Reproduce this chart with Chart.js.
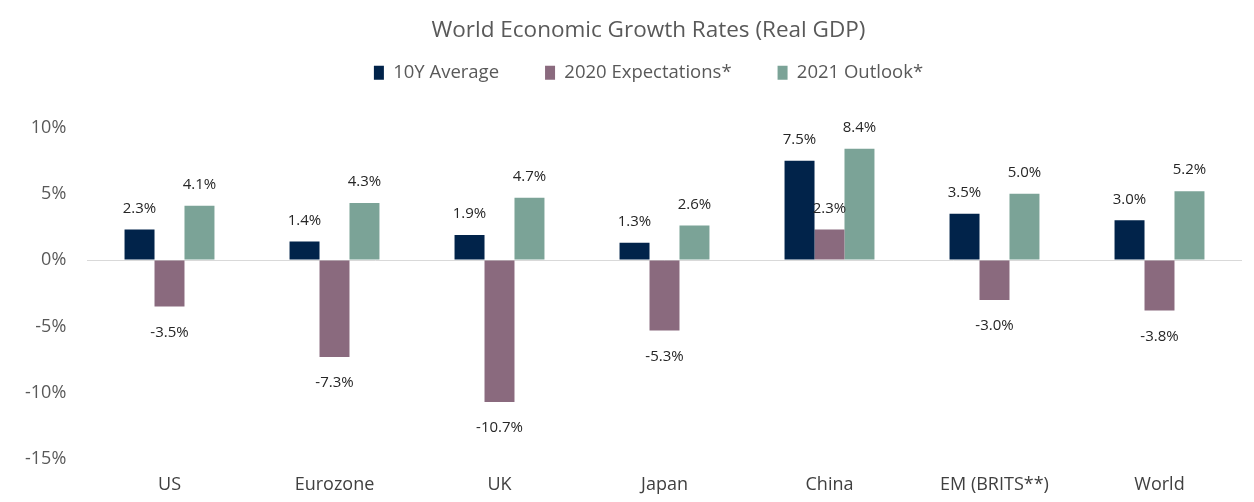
<!DOCTYPE html>
<html><head><meta charset="utf-8">
<script src="https://cdn.jsdelivr.net/npm/chart.js@4/dist/chart.umd.min.js"></script>
<style>html,body{margin:0;padding:0;background:#fff}#wrap{width:1254px;height:502px}</style>
</head><body><div id="wrap"><canvas id="c"></canvas></div>
<script>
const categories = ['US','Eurozone','UK','Japan','China','EM (BRITS**)','World'];
const avg10Y = [2.3, 1.4, 1.9, 1.3, 7.5, 3.5, 3.0];
const exp2020 = [-3.5, -7.3, -10.7, -5.3, 2.3, -3.0, -3.8];
const outlook2021 = [4.1, 4.3, 4.7, 2.6, 8.4, 5.0, 5.2];
const seriesNames = ['10Y Average','2020 Expectations*','2021 Outlook*'];
const yTicks = [10, 5, 0, -5, -10, -15];

const FONT = "'Open Sans', 'Noto Sans', sans-serif";
const labelPlugin = {
  id: 'barLabels',
  afterDatasetsDraw(chart) {
    const ctx = chart.ctx;
    ctx.save();
    ctx.font = "15px " + FONT;
    ctx.fillStyle = '#262626';
    ctx.textAlign = 'center';
    ctx.textBaseline = 'middle';
    chart.data.datasets.forEach((ds, i) => {
      chart.getDatasetMeta(i).data.forEach((bar, j) => {
        const v = ds.data[j];
        const y = v >= 0 ? bar.y - 21 : bar.y + 26;
        ctx.fillText(v.toFixed(1) + '%', bar.x, y);
      });
    });
    ctx.restore();
  }
};

new Chart(document.getElementById('c'), {
  type: 'bar',
  data: {
    labels: categories,
    datasets: [
      {label: seriesNames[0], data: avg10Y, backgroundColor: '#01234a'},
      {label: seriesNames[1], data: exp2020, backgroundColor: '#8a6a7e'},
      {label: seriesNames[2], data: outlook2021, backgroundColor: '#7ba397'}
    ]
  },
  options: {
    responsive: true,
    maintainAspectRatio: false,
    animation: false,
    layout: {padding: {left: 55, right: 12, top: 0, bottom: 6}},
    datasets: {bar: {categoryPercentage: 0.545, barPercentage: 1.0}},
    plugins: {
      title: {display: true, text: 'World Economic Growth Rates (Real GDP)', color: '#595959',
        font: {family: FONT, size: 22.5, weight: 'normal'}, padding: {top: 17.5, bottom: -27}},
      legend: {position: 'top', labels: {color: '#595959', font: {family: FONT, size: 18.5},
        boxWidth: 10, boxHeight: 14, padding: 46}},
      subtitle: {display: true, text: ' ', weight: 500, font: {size: 10}, padding: {top: 23.5, bottom: 0}},
      tooltip: {enabled: false}
    },
    scales: {
      x: {grid: {display: false, drawTicks: false}, border: {display: false},
        afterFit: (s) => { s.height = 37; },
        ticks: {color: '#404040', font: {family: FONT, size: 18}, padding: 15}},
      y: {min: -15, max: 10, border: {display: false},
        afterFit: (s) => { s.width = 32; },
        afterBuildTicks: (s) => { s.ticks = yTicks.map(v => ({value: v})); },
        grid: {drawTicks: false, color: (c) => c.tick && c.tick.value === 0 ? '#d9d9d9' : 'transparent'},
        ticks: {color: '#595959', font: {family: FONT, size: 18}, mirror: true, crossAlign: 'far', padding: -62,
          callback: (v) => v + '%'}}
    }
  },
  plugins: [labelPlugin]
});
</script></body></html>
